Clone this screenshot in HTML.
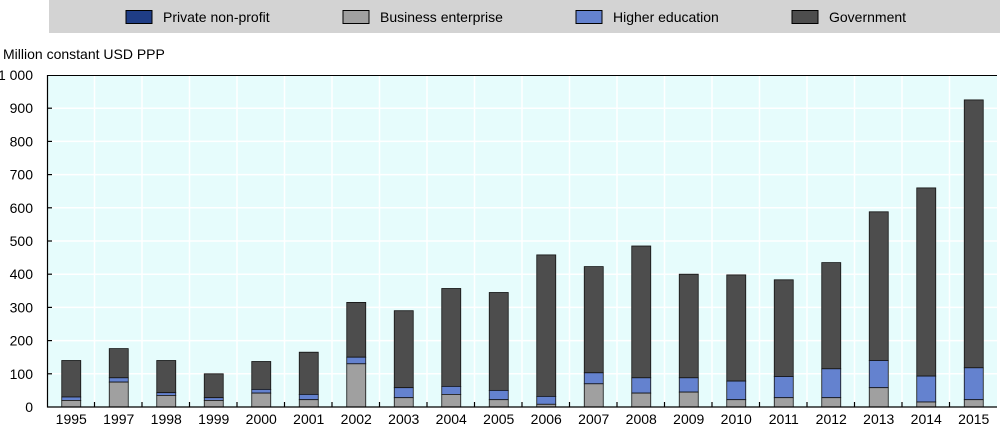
<!DOCTYPE html>
<html><head><meta charset="utf-8"><style>
html,body{margin:0;padding:0;background:#fff;width:1000px;height:426px;overflow:hidden}
svg{display:block;font-family:"Liberation Sans",Arial,sans-serif}
</style></head><body>
<svg width="1000" height="426" viewBox="0 0 1000 426" xmlns="http://www.w3.org/2000/svg">
<rect x="49" y="0" width="951" height="33" fill="#d3d3d3"/>
<g stroke="#000" stroke-width="1">
<rect x="126" y="10.5" width="26" height="13" fill="#1f3d86"/>
<rect x="343" y="10.5" width="26" height="13" fill="#a0a0a0"/>
<rect x="576" y="10.5" width="26" height="13" fill="#6482cf"/>
<rect x="792" y="10.5" width="26" height="13" fill="#4d4d4d"/>
</g>
<g font-size="14" fill="#000">
<text x="163" y="22">Private non-profit</text>
<text x="380" y="22">Business enterprise</text>
<text x="613" y="22">Higher education</text>
<text x="829" y="22">Government</text>
<text x="3" y="59">Million constant USD PPP</text>
</g>
<rect x="47" y="75" width="950" height="332" fill="#e6fcfc"/>
<g stroke="#fff" stroke-width="1.5">
<line x1="47" y1="108.2" x2="997" y2="108.2"/><line x1="47" y1="141.4" x2="997" y2="141.4"/>
<line x1="47" y1="174.6" x2="997" y2="174.6"/><line x1="47" y1="207.8" x2="997" y2="207.8"/>
<line x1="47" y1="241" x2="997" y2="241"/><line x1="47" y1="274.2" x2="997" y2="274.2"/>
<line x1="47" y1="307.4" x2="997" y2="307.4"/><line x1="47" y1="340.6" x2="997" y2="340.6"/>
<line x1="47" y1="373.8" x2="997" y2="373.8"/>
<line x1="94.5" y1="75" x2="94.5" y2="407"/><line x1="142" y1="75" x2="142" y2="407"/><line x1="189.5" y1="75" x2="189.5" y2="407"/><line x1="237" y1="75" x2="237" y2="407"/><line x1="284.5" y1="75" x2="284.5" y2="407"/><line x1="332" y1="75" x2="332" y2="407"/><line x1="379.5" y1="75" x2="379.5" y2="407"/><line x1="427" y1="75" x2="427" y2="407"/><line x1="474.5" y1="75" x2="474.5" y2="407"/><line x1="522" y1="75" x2="522" y2="407"/><line x1="569.5" y1="75" x2="569.5" y2="407"/><line x1="617" y1="75" x2="617" y2="407"/><line x1="664.5" y1="75" x2="664.5" y2="407"/><line x1="712" y1="75" x2="712" y2="407"/><line x1="759.5" y1="75" x2="759.5" y2="407"/><line x1="807" y1="75" x2="807" y2="407"/><line x1="854.5" y1="75" x2="854.5" y2="407"/><line x1="902" y1="75" x2="902" y2="407"/><line x1="949.5" y1="75" x2="949.5" y2="407"/>
</g>
<g stroke="#000" stroke-width="1">
<line x1="47.5" y1="75.5" x2="997" y2="75.5"/>
</g>
<g stroke="#111" stroke-width="0.8">
<!-- bars: gov, higher, business -->
<rect x="61.75" y="360.5" width="19" height="36.5" fill="#4d4d4d"/><rect x="61.75" y="397" width="19" height="3.4" fill="#6482cf"/><rect x="61.75" y="400.4" width="19" height="6.6" fill="#a0a0a0"/>
<rect x="109.25" y="348.6" width="19" height="29.2" fill="#4d4d4d"/><rect x="109.25" y="377.8" width="19" height="4.3" fill="#6482cf"/><rect x="109.25" y="382.1" width="19" height="24.9" fill="#a0a0a0"/>
<rect x="156.75" y="360.5" width="19" height="32.2" fill="#4d4d4d"/><rect x="156.75" y="392.7" width="19" height="2.7" fill="#6482cf"/><rect x="156.75" y="395.4" width="19" height="11.6" fill="#a0a0a0"/>
<rect x="204.25" y="373.8" width="19" height="23.9" fill="#4d4d4d"/><rect x="204.25" y="397.7" width="19" height="2.7" fill="#6482cf"/><rect x="204.25" y="400.4" width="19" height="6.6" fill="#a0a0a0"/>
<rect x="251.75" y="361.5" width="19" height="27.9" fill="#4d4d4d"/><rect x="251.75" y="389.4" width="19" height="3.7" fill="#6482cf"/><rect x="251.75" y="393.1" width="19" height="13.9" fill="#a0a0a0"/>
<rect x="299.25" y="352.2" width="19" height="42.2" fill="#4d4d4d"/><rect x="299.25" y="394.4" width="19" height="5.3" fill="#6482cf"/><rect x="299.25" y="399.7" width="19" height="7.3" fill="#a0a0a0"/>
<rect x="346.75" y="302.4" width="19" height="54.8" fill="#4d4d4d"/><rect x="346.75" y="357.2" width="19" height="6.6" fill="#6482cf"/><rect x="346.75" y="363.8" width="19" height="43.2" fill="#a0a0a0"/>
<rect x="394.25" y="310.7" width="19" height="77" fill="#4d4d4d"/><rect x="394.25" y="387.7" width="19" height="10" fill="#6482cf"/><rect x="394.25" y="397.7" width="19" height="9.3" fill="#a0a0a0"/>
<rect x="441.75" y="288.5" width="19" height="97.9" fill="#4d4d4d"/><rect x="441.75" y="386.4" width="19" height="8" fill="#6482cf"/><rect x="441.75" y="394.4" width="19" height="12.6" fill="#a0a0a0"/>
<rect x="489.25" y="292.5" width="19" height="97.9" fill="#4d4d4d"/><rect x="489.25" y="390.4" width="19" height="9.3" fill="#6482cf"/><rect x="489.25" y="399.7" width="19" height="7.3" fill="#a0a0a0"/>
<rect x="536.75" y="254.9" width="19" height="141.5" fill="#4d4d4d"/><rect x="536.75" y="396.4" width="19" height="7.9" fill="#6482cf"/><rect x="536.75" y="404.3" width="19" height="2.7" fill="#a0a0a0"/>
<rect x="584.25" y="266.6" width="19" height="106.2" fill="#4d4d4d"/><rect x="584.25" y="372.8" width="19" height="11" fill="#6482cf"/><rect x="584.25" y="383.8" width="19" height="23.2" fill="#a0a0a0"/>
<rect x="631.75" y="246" width="19" height="131.8" fill="#4d4d4d"/><rect x="631.75" y="377.8" width="19" height="15.3" fill="#6482cf"/><rect x="631.75" y="393.1" width="19" height="13.9" fill="#a0a0a0"/>
<rect x="679.25" y="274.2" width="19" height="103.6" fill="#4d4d4d"/><rect x="679.25" y="377.8" width="19" height="14.3" fill="#6482cf"/><rect x="679.25" y="392.1" width="19" height="14.9" fill="#a0a0a0"/>
<rect x="726.75" y="274.9" width="19" height="106.2" fill="#4d4d4d"/><rect x="726.75" y="381.1" width="19" height="18.6" fill="#6482cf"/><rect x="726.75" y="399.7" width="19" height="7.3" fill="#a0a0a0"/>
<rect x="774.25" y="279.8" width="19" height="96.7" fill="#4d4d4d"/><rect x="774.25" y="376.5" width="19" height="21.2" fill="#6482cf"/><rect x="774.25" y="397.7" width="19" height="9.3" fill="#a0a0a0"/>
<rect x="821.75" y="262.6" width="19" height="106.2" fill="#4d4d4d"/><rect x="821.75" y="368.8" width="19" height="28.9" fill="#6482cf"/><rect x="821.75" y="397.7" width="19" height="9.3" fill="#a0a0a0"/>
<rect x="869.25" y="211.8" width="19" height="148.7" fill="#4d4d4d"/><rect x="869.25" y="360.5" width="19" height="27.2" fill="#6482cf"/><rect x="869.25" y="387.7" width="19" height="19.3" fill="#a0a0a0"/>
<rect x="916.75" y="187.9" width="19" height="188.2" fill="#4d4d4d"/><rect x="916.75" y="376.1" width="19" height="25.9" fill="#6482cf"/><rect x="916.75" y="402" width="19" height="5" fill="#a0a0a0"/>
<rect x="964.25" y="99.9" width="19" height="267.9" fill="#4d4d4d"/><rect x="964.25" y="367.8" width="19" height="31.9" fill="#6482cf"/><rect x="964.25" y="399.7" width="19" height="7.3" fill="#a0a0a0"/>
</g>
<g stroke="#000" stroke-width="1.2">
<line x1="47.5" y1="75" x2="47.5" y2="407.5"/>
<line x1="47" y1="407" x2="997" y2="407"/>
<line x1="47" y1="108.2" x2="52" y2="108.2"/><line x1="47" y1="141.4" x2="52" y2="141.4"/><line x1="47" y1="174.6" x2="52" y2="174.6"/><line x1="47" y1="207.8" x2="52" y2="207.8"/><line x1="47" y1="241" x2="52" y2="241"/><line x1="47" y1="274.2" x2="52" y2="274.2"/><line x1="47" y1="307.4" x2="52" y2="307.4"/><line x1="47" y1="340.6" x2="52" y2="340.6"/><line x1="47" y1="373.8" x2="52" y2="373.8"/>
<line x1="94.5" y1="402" x2="94.5" y2="407"/><line x1="142" y1="402" x2="142" y2="407"/><line x1="189.5" y1="402" x2="189.5" y2="407"/><line x1="237" y1="402" x2="237" y2="407"/><line x1="284.5" y1="402" x2="284.5" y2="407"/><line x1="332" y1="402" x2="332" y2="407"/><line x1="379.5" y1="402" x2="379.5" y2="407"/><line x1="427" y1="402" x2="427" y2="407"/><line x1="474.5" y1="402" x2="474.5" y2="407"/><line x1="522" y1="402" x2="522" y2="407"/><line x1="569.5" y1="402" x2="569.5" y2="407"/><line x1="617" y1="402" x2="617" y2="407"/><line x1="664.5" y1="402" x2="664.5" y2="407"/><line x1="712" y1="402" x2="712" y2="407"/><line x1="759.5" y1="402" x2="759.5" y2="407"/><line x1="807" y1="402" x2="807" y2="407"/><line x1="854.5" y1="402" x2="854.5" y2="407"/><line x1="902" y1="402" x2="902" y2="407"/><line x1="949.5" y1="402" x2="949.5" y2="407"/>
</g>
<g font-size="14" fill="#000" text-anchor="end">
<text x="33" y="80">1 000</text><text x="33" y="113.2">900</text><text x="33" y="146.4">800</text><text x="33" y="179.6">700</text><text x="33" y="212.8">600</text><text x="33" y="246">500</text><text x="33" y="279.2">400</text><text x="33" y="312.4">300</text><text x="33" y="345.6">200</text><text x="33" y="378.8">100</text><text x="33" y="412">0</text>
</g>
<g font-size="14" fill="#000" text-anchor="middle">
<text x="71.25" y="424">1995</text><text x="118.75" y="424">1997</text><text x="166.25" y="424">1998</text><text x="213.75" y="424">1999</text><text x="261.25" y="424">2000</text><text x="308.75" y="424">2001</text><text x="356.25" y="424">2002</text><text x="403.75" y="424">2003</text><text x="451.25" y="424">2004</text><text x="498.75" y="424">2005</text><text x="546.25" y="424">2006</text><text x="593.75" y="424">2007</text><text x="641.25" y="424">2008</text><text x="688.75" y="424">2009</text><text x="736.25" y="424">2010</text><text x="783.75" y="424">2011</text><text x="831.25" y="424">2012</text><text x="878.75" y="424">2013</text><text x="926.25" y="424">2014</text><text x="973.75" y="424">2015</text>
</g>
</svg>
</body></html>
